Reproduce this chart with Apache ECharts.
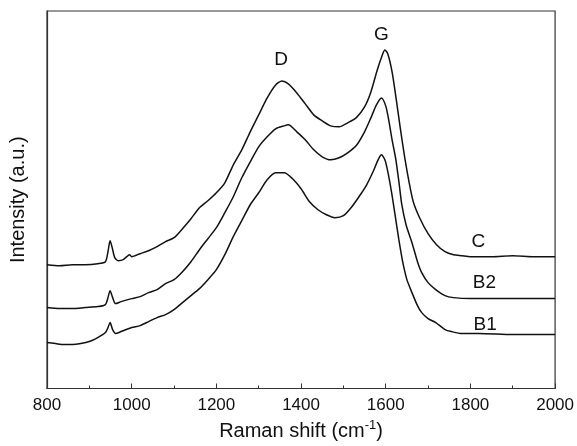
<!DOCTYPE html>
<html>
<head>
<meta charset="utf-8">
<script src="https://cdn.jsdelivr.net/npm/echarts@6/dist/echarts.min.js"></script>
<style>
	html, body { margin: 0; padding: 0; background: #fff; }
	#chart { width: 577px; height: 446px; }
</style>
</head>
<body>
<div id="chart"></div>
<script>
// Raman shift (cm-1) and intensity (a.u.), curves already offset
var shiftC = [800, 830, 860, 890, 920, 938, 944, 949, 954, 960, 968, 980, 995, 1000, 1020, 1040, 1060, 1080, 1100, 1120, 1140, 1160, 1180, 1200, 1220, 1240, 1260, 1280, 1300, 1320, 1340, 1355, 1370, 1390, 1410, 1430, 1450, 1470, 1490, 1510, 1530, 1550, 1565, 1580, 1592, 1598, 1605, 1615, 1625, 1635, 1645, 1655, 1665, 1680, 1700, 1720, 1740, 1760, 1780, 1800, 1850, 1900, 1950, 2000];
var intC = [124, 123, 124, 124, 125, 127, 137, 148, 141, 131, 128, 129, 134, 132, 135, 138, 142, 147, 151, 160, 170, 181, 188, 196, 206, 224, 239, 257, 274, 291, 304, 308, 305, 296, 285, 274, 268, 263, 262, 266, 271, 282, 297, 319, 334, 339, 335, 317, 289, 259, 231, 207, 187, 171, 155, 144, 137, 134, 133, 132, 132, 133, 132, 132];

var shiftB2 = [800, 830, 860, 890, 920, 938, 944, 949, 955, 962, 975, 1000, 1020, 1040, 1060, 1080, 1100, 1120, 1140, 1160, 1180, 1200, 1220, 1240, 1260, 1280, 1300, 1320, 1340, 1360, 1370, 1390, 1410, 1430, 1450, 1470, 1490, 1510, 1530, 1550, 1565, 1578, 1590, 1600, 1607, 1615, 1624, 1632, 1638, 1648, 1662, 1675, 1685, 1700, 1718, 1740, 1760, 1800, 1900, 2000];
var intB2 = [81, 80, 80, 81, 82, 84, 91, 98, 91, 85, 87, 90, 92, 96, 99, 105, 109, 117, 127, 139, 150, 161, 176, 192, 211, 227, 242, 252, 260, 263, 264, 257, 249, 239, 232, 229, 231, 236, 243, 257, 271, 284, 291, 283, 269, 249, 229, 204, 184, 164, 146, 127, 116, 106, 99, 93, 91, 90, 90, 90];

var shiftB1 = [800, 820, 840, 860, 880, 900, 920, 938, 944, 949, 955, 962, 975, 1000, 1020, 1040, 1060, 1080, 1100, 1120, 1140, 1160, 1180, 1200, 1220, 1240, 1260, 1280, 1300, 1320, 1340, 1360, 1380, 1400, 1420, 1440, 1460, 1480, 1500, 1520, 1540, 1555, 1570, 1582, 1590, 1598, 1605, 1614, 1622, 1631, 1640, 1650, 1662, 1675, 1685, 1700, 1718, 1740, 1755, 1780, 1820, 1900, 2000];
var intB1 = [46, 45, 44, 44, 45, 47, 51, 56, 61, 66, 59, 55, 57, 61, 63, 67, 71, 74, 79, 86, 93, 100, 109, 119, 134, 152, 168, 184, 196, 209, 216, 216, 210, 200, 187, 179, 174, 171, 173, 182, 194, 204, 217, 229, 234, 229, 217, 196, 174, 149, 127, 109, 96, 83, 76, 70, 66, 59, 57, 55, 55, 54, 54];

// peak and curve labels
var labelText = ['D', 'G', 'C', 'B2', 'B1'];
var labelX = [1353, 1590, 1819, 1833, 1835];
var labelY = [329, 354, 147, 106, 64];

var xTicks = [800, 1000, 1200, 1400, 1600, 1800, 2000];

function pairs(xs, ys) {
	var out = [];
	for (var i = 0; i < xs.length; i++) {
		out.push([xs[i], ys[i]]);
	}
	return out;
}

var labels = [];
for (var i = 0; i < labelText.length; i++) {
	labels.push([labelX[i], labelY[i], labelText[i]]);
}

var font = '"Liberation Sans", Arial, sans-serif';
var ink = '#111';

function spectrum(name, xs, ys) {
	return {
		name: name,
		type: 'line',
		data: pairs(xs, ys),
		showSymbol: false,
		smooth: 0.25,
		lineStyle: { color: ink, width: 1.5 },
		animation: false
	};
}

var chart = echarts.init(document.getElementById('chart'));
var option = {
	backgroundColor: '#fff',
	textStyle: { fontFamily: font },
	grid: {
		left: 47,
		right: 20,
		top: 11,
		bottom: 57,
		show: true,
		borderColor: '#333',
		borderWidth: 1.2
	},
	xAxis: {
		type: 'value',
		min: xTicks[0],
		max: xTicks[xTicks.length - 1],
		interval: 200,
		name: 'Raman shift (cm{sup|-1})',
		nameLocation: 'middle',
		nameGap: 30,
		nameTextStyle: {
			fontSize: 20,
			color: ink,
			fontFamily: font,
			rich: { sup: { fontSize: 13, verticalAlign: 'top', padding: [0, 0, 12, 0], color: ink, fontFamily: font } }
		},
		axisLine: { lineStyle: { color: '#333', width: 1.2 } },
		axisTick: { inside: true, length: 5, lineStyle: { color: '#333' } },
		minorTick: { show: true, splitNumber: 2, length: 3, lineStyle: { color: '#333' } },
		axisLabel: {
			fontSize: 17,
			color: ink,
			margin: 8,
			fontFamily: font,
			formatter: function (v) { return String(v); }
		},
		splitLine: { show: false }
	},
	yAxis: {
		type: 'value',
		min: 0,
		max: 378,
		name: 'Intensity (a.u.)',
		nameLocation: 'middle',
		nameGap: 19,
		nameTextStyle: { fontSize: 20, color: ink, fontFamily: font },
		axisLine: { show: true, lineStyle: { color: '#333', width: 1.2 } },
		axisTick: { show: false },
		axisLabel: { show: false },
		splitLine: { show: false }
	},
	series: [
		spectrum('C', shiftC, intC),
		spectrum('B2', shiftB2, intB2),
		spectrum('B1', shiftB1, intB1),
		{
			name: 'labels',
			type: 'scatter',
			data: labels,
			symbolSize: 0,
			animation: false,
			silent: true,
			itemStyle: { opacity: 1, color: ink },
			label: {
				show: true,
				position: 'inside',
				formatter: function (p) { return p.value[2]; },
				fontSize: 19,
				color: ink,
				opacity: 1,
				textBorderWidth: 0,
				fontFamily: font
			}
		}
	]
};
chart.setOption(option);
</script>
</body>
</html>
